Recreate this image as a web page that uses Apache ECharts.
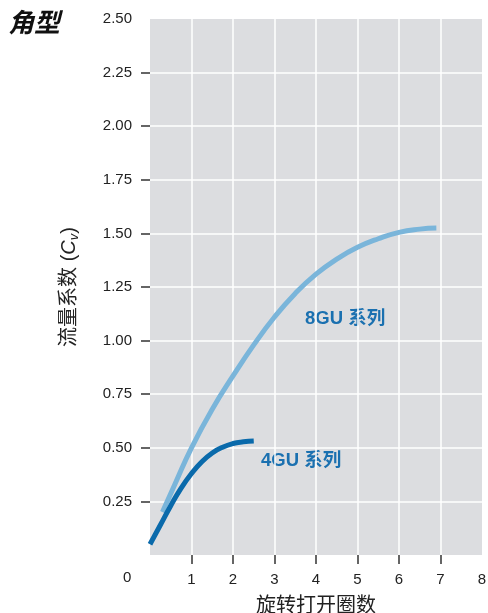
<!DOCTYPE html>
<html>
<head>
<meta charset="utf-8">
<script src="https://cdn.jsdelivr.net/npm/echarts@6/dist/echarts.min.js"></script>
<style>
html,body{margin:0;padding:0;background:#fff;}
#chart{width:488px;height:613px;}
</style>
</head>
<body>
<div id="chart"></div>
<script>
// ---- data ----
const title = '角型';
const xAxisName = '旋转打开圈数';
const xTickValues = [1, 2, 3, 4, 5, 6, 7];
const xLabelValues = [1, 2, 3, 4, 5, 6, 7, 8];
const yTickValues = [0.25, 0.5, 0.75, 1.0, 1.25, 1.5, 1.75, 2.0, 2.25];
const yLabelValues = [0.25, 0.5, 0.75, 1.0, 1.25, 1.5, 1.75, 2.0, 2.25, 2.5];
const series8Name = '8GU 系列';
const series8X = [0.3, 0.6, 1.0, 1.5, 2.0, 2.5, 3.0, 3.5, 4.0, 4.5, 5.0, 5.5, 6.0, 6.5, 6.9];
const series8Y = [0.20, 0.33, 0.50, 0.68, 0.835, 0.98, 1.11, 1.22, 1.31, 1.38, 1.435, 1.475, 1.505, 1.52, 1.525];
const series4Name = '4GU 系列';
const series4X = [0.0, 0.25, 0.5, 0.75, 1.0, 1.25, 1.5, 1.75, 2.0, 2.25, 2.5];
const series4Y = [0.05, 0.14, 0.23, 0.312, 0.38, 0.435, 0.476, 0.503, 0.52, 0.528, 0.532];

const LAT = 'Liberation Sans, Arial, Helvetica, Noto Sans CJK SC, sans-serif';
const chart = echarts.init(document.getElementById('chart'));
const zip = (xs, ys) => xs.map((x, i) => [x, ys[i]]);

chart.setOption({
  backgroundColor: '#ffffff',
  animation: false,
  grid: { left: 150, top: 19, width: 332, height: 536, backgroundColor: '#dcdde0', show: true, borderWidth: 0, outerBoundsMode: 'none', containLabel: false },
  xAxis: {
    type: 'value', min: 0, max: 8, interval: 1, offset: 2,
    name: xAxisName, nameLocation: 'middle', nameGap: 39,
    nameTextStyle: { fontFamily: LAT, fontSize: 20, color: '#222' },
    axisLine: { show: false },
    axisTick: { show: true, length: 9, customValues: xTickValues, lineStyle: { color: '#333', width: 1.5 } },
    axisLabel: { customValues: xLabelValues, margin: 15, fontFamily: LAT, fontSize: 15, color: '#222' },
    splitLine: { show: true, lineStyle: { color: '#ffffff', width: 1.5 } }
  },
  yAxis: {
    type: 'value', min: 0, max: 2.5, interval: 0.25, offset: 2,
    name: '流量系数 ({c|C}{sub|v})', nameLocation: 'middle', nameGap: 67, nameRotate: 90,
    nameTextStyle: {
      fontFamily: LAT, fontSize: 20, color: '#222',
      rich: {
        c: { fontFamily: LAT, fontSize: 20, fontStyle: 'italic', color: '#222' },
        sub: { fontFamily: LAT, fontSize: 13, fontStyle: 'italic', color: '#222', verticalAlign: 'bottom', padding: [10, 0, 0, 0] }
      }
    },
    axisLine: { show: false },
    axisTick: { show: true, length: 9, customValues: yTickValues, lineStyle: { color: '#333', width: 1.5 } },
    axisLabel: { customValues: yLabelValues, margin: 16, fontFamily: LAT, fontSize: 15, color: '#222',
      formatter: v => v.toFixed(2) },
    splitLine: { show: true, lineStyle: { color: '#ffffff', width: 1.5 } }
  },
  graphic: [
    { type: 'text', left: 8, top: 9, style: { text: title, font: 'italic bold 26px "Noto Sans CJK SC", sans-serif', fill: '#111' } },
    { type: 'text', left: 123, top: 570, style: { text: '0', font: '15px "Liberation Sans", Arial, sans-serif', fill: '#222' } },
    { type: 'text', left: 305, top: 310, style: { text: series8Name, font: 'bold 18.5px "Liberation Sans", "Noto Sans CJK SC", sans-serif', fill: '#1a70b0' } },
    { type: 'text', left: 261, top: 452, style: { text: series4Name, font: 'bold 18.5px "Liberation Sans", "Noto Sans CJK SC", sans-serif', fill: '#1a70b0' } }
  ],
  series: [
    { name: series8Name, type: 'line', data: zip(series8X, series8Y), smooth: 0.5, showSymbol: false,
      lineStyle: { color: '#7ab5da', width: 5 } },
    { name: series4Name, type: 'line', data: zip(series4X, series4Y), smooth: 0.5, showSymbol: false,
      lineStyle: { color: '#0a6aab', width: 5 } }
  ]
});
</script>
</body>
</html>
